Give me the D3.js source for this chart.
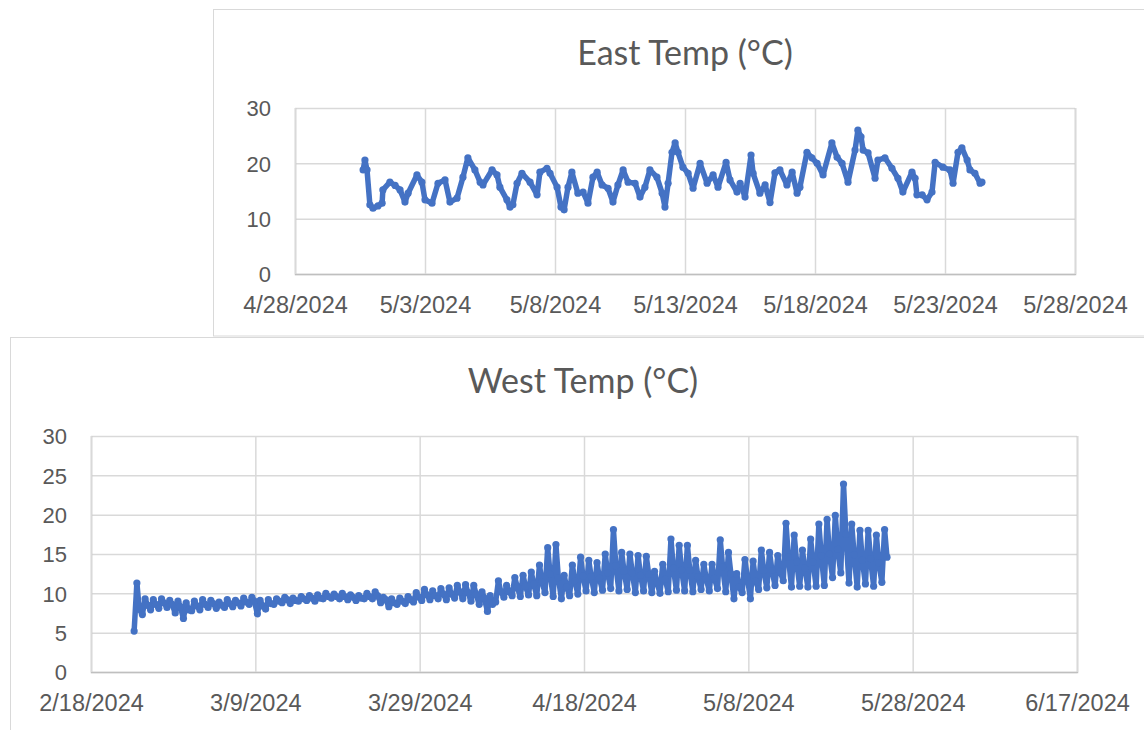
<!DOCTYPE html>
<html>
<head>
<meta charset="utf-8">
<script src="https://cdnjs.cloudflare.com/ajax/libs/d3/7.8.5/d3.min.js"></script>
<style>
body { margin: 0; background: #fff; }
svg { display: block; font-family: Lato, "Liberation Sans", sans-serif; }
</style>
</head>
<body>
<svg width="1144" height="730"></svg>
<script>
// East sensor: days since 4/28/2024 00:00, and temperature
var eastStart = "2024-04-28";
var eastDay = [2.62,2.69,2.77,2.88,3.00,3.19,3.35,3.38,3.65,3.85,4.04,4.23,4.35,4.69,4.88,5.00,5.27,5.50,5.77,5.96,
  6.23,6.46,6.65,6.92,7.12,7.23,7.58,7.77,7.88,8.15,8.27,8.38,8.54,8.73,9.04,9.31,9.42,9.69,9.81,10.08,
  10.23,10.35,10.50,10.65,10.88,11.08,11.27,11.46,11.62,11.81,12.04,12.23,12.42,12.62,12.81,13.08,13.27,13.46,13.65,13.92,
  14.12,14.23,14.35,14.50,14.62,14.73,14.92,15.12,15.31,15.58,15.85,16.08,16.27,16.58,16.73,17.00,17.12,17.31,17.54,17.62,
  17.88,18.08,18.27,18.46,18.65,18.92,19.12,19.31,19.42,19.69,19.88,20.08,20.31,20.65,20.85,21.04,21.27,21.54,21.65,21.77,
  21.85,22.04,22.31,22.42,22.69,22.96,23.19,23.38,23.73,23.85,23.92,24.12,24.31,24.50,24.62,24.92,25.19,25.31,25.50,25.65,
  25.85,25.96,26.15,26.35,26.42];
var eastTemp = [18.8,20.6,18.8,12.5,11.9,12.3,12.8,15.2,16.6,16.0,15.2,13.0,14.6,17.9,16.6,13.4,12.8,16.4,17.0,13.0,
  13.7,17.5,21.0,18.8,16.6,16.1,18.8,17.9,15.7,13.4,12.1,12.5,16.4,18.2,16.6,14.3,18.4,19.1,18.2,15.7,
  12.1,11.6,15.7,18.4,14.6,14.8,12.8,17.5,18.4,16.1,15.5,13.0,16.1,18.8,16.6,16.4,13.9,15.7,18.8,17.5,
  14.6,12.1,16.4,22.0,23.7,22.0,19.3,18.2,15.5,20.0,16.4,17.9,15.7,20.2,17.0,14.8,16.4,13.9,21.5,18.2,
  14.6,16.1,12.9,18.3,18.8,16.1,18.4,14.6,15.7,22.0,21.0,20.0,17.9,23.7,21.1,20.0,16.6,22.4,26.0,24.8,
  22.4,21.9,17.3,20.6,21.0,19.1,17.3,14.8,18.4,17.3,14.3,14.3,13.4,14.8,20.2,19.3,18.8,16.4,22.0,22.8,
  20.6,18.8,18.2,16.4,16.6];
var eastXTicks = ["2024-04-28","2024-05-03","2024-05-08","2024-05-13","2024-05-18","2024-05-23","2024-05-28"];
var eastYTicks = [0, 10, 20, 30];

// West sensor: early-morning low, afternoon high and evening reading per day from 2/23/2024
var westStart = "2024-02-23";
var westLow = [5.2,7.3,7.9,8.1,8.2,7.5,6.8,7.8,7.9,8.2,8.1,8.2,8.3,8.4,8.6,7.4,8.0,8.6,8.8,8.7,
  9.0,9.1,9.0,9.3,9.4,9.3,9.2,9.1,9.3,9.3,8.8,8.3,8.6,8.7,8.9,9.1,9.2,9.3,9.2,9.4,
  9.3,9.0,8.6,7.7,8.9,9.5,9.7,9.6,9.8,9.7,10.1,9.6,9.3,9.7,9.9,10.3,10.1,10.4,10.6,10.3,
  10.5,10.1,10.3,10.1,10.0,10.2,10.4,10.3,10.2,10.5,10.3,10.6,10.2,9.3,10.1,9.3,10.5,10.7,11.0,11.6,
  10.8,10.9,10.8,10.9,11.0,12.0,12.6,11.3,10.8,11.2,10.9,11.4];
var westHigh = [11.3,9.3,9.2,9.3,9.1,9.0,8.8,9.0,9.2,9.1,8.9,9.2,9.1,9.4,9.5,9.1,9.2,9.3,9.5,9.4,
  9.6,9.7,9.8,10.0,9.9,10.0,9.8,9.7,10.0,10.2,9.5,9.3,9.4,9.6,10.1,10.5,10.3,10.6,10.7,11.0,
  11.1,11.0,10.2,9.7,11.6,11.0,12.0,12.3,12.7,13.6,15.8,16.2,12.3,13.6,14.6,14.2,13.9,15.0,18.1,15.2,
  15.0,14.8,14.7,12.8,13.7,16.9,16.1,16.1,14.2,13.7,13.7,16.8,15.2,12.5,14.3,14.1,15.5,15.2,14.8,18.9,
  17.4,15.5,16.9,18.8,19.4,19.9,23.9,18.8,18.0,18.0,17.4,18.1];
var westEve = [8.0,8.5,8.6,8.8,8.6,8.3,7.9,8.4,8.6,8.7,8.5,8.7,8.8,8.9,9.0,8.4,8.7,9.0,9.2,9.1,
  9.3,9.4,9.4,9.6,9.6,9.6,9.5,9.4,9.6,9.7,9.2,8.8,9.0,9.2,9.5,9.8,9.7,9.9,9.9,10.2,
  10.1,9.9,9.4,8.6,10.2,10.2,10.8,10.9,11.2,11.5,12.4,12.0,10.8,11.6,12.2,12.1,11.9,12.6,13.5,12.8,
  12.6,12.3,12.4,11.4,11.8,13.2,13.0,12.9,12.1,11.9,11.9,13.3,12.5,10.8,12.1,11.6,12.9,12.9,12.8,14.6,
  14.0,13.2,14.0,14.8,15.0,15.6,17.5,14.9,14.2,14.4,13.9,14.6];
var westXTicks = ["2024-02-18","2024-03-09","2024-03-29","2024-04-18","2024-05-08","2024-05-28","2024-06-17"];
var westYTicks = [0, 5, 10, 15, 20, 25, 30];

var parse = d3.timeParse("%Y-%m-%d");
var fmt = d3.timeFormat("%-m/%-d/%Y");
var blue = "#4472C4", textCol = "#595959";

var eastData = eastDay.map(function(d, i) {
	return { t: new Date(parse(eastStart).getTime() + d * 864e5), v: eastTemp[i] };
});
var westData = [];
westLow.forEach(function(lo, i) {
	var day = d3.timeDay.offset(parse(westStart), i);
	westData.push({ t: d3.timeHour.offset(day, 6), v: lo });
	westData.push({ t: d3.timeHour.offset(day, 14), v: westHigh[i] });
	westData.push({ t: d3.timeHour.offset(day, 21), v: westEve[i] });
});

var svg = d3.select("svg");
svg.append("rect").attr("width", 1144).attr("height", 730).attr("fill", "#fff");

// chart frames
svg.append("rect").attr("x", 213.5).attr("y", 9.5).attr("width", 1000).attr("height", 326.5)
	.attr("fill", "#fff").attr("stroke", "#d9d9d9");
svg.append("rect").attr("x", 10.5).attr("y", 337.5).attr("width", 1200).attr("height", 500)
	.attr("fill", "#fff").attr("stroke", "#d9d9d9");

drawChart({
	title: "East Temp (°C)", titleX: 685, titleY: 65,
	left: 295, right: 1075, top: 108, bottom: 274,
	xTicks: eastXTicks, yTicks: eastYTicks, data: eastData
});
drawChart({
	title: "West Temp (°C)", titleX: 583, titleY: 393,
	left: 91, right: 1077, top: 436, bottom: 672,
	xTicks: westXTicks, yTicks: westYTicks, data: westData
});

function drawChart(c) {
	var xt = c.xTicks.map(parse);
	var x = d3.scaleTime().domain([xt[0], xt[xt.length - 1]]).range([c.left, c.right]);
	var y = d3.scaleLinear().domain([0, d3.max(c.yTicks)]).range([c.bottom, c.top]);
	var w = c.right - c.left, h = c.bottom - c.top;

	svg.append("text").attr("x", c.titleX).attr("y", c.titleY)
		.attr("text-anchor", "middle").attr("fill", textCol)
		.style("font-size", "34px").text(c.title);

	var gy = svg.append("g").attr("transform", "translate(" + c.left + ",0)")
		.call(d3.axisLeft(y).tickValues(c.yTicks).tickSize(-w).tickPadding(24));
	gy.select(".domain").remove();
	gy.selectAll("line").attr("stroke", "#d9d9d9").attr("stroke-width", 1.5);
	gy.selectAll("text").attr("fill", textCol).style("font-size", "22px").attr("dy", "0.35em");

	var gx = svg.append("g").attr("transform", "translate(0," + c.bottom + ")")
		.call(d3.axisBottom(x).tickValues(xt).tickFormat(fmt).tickSize(-h).tickPadding(0));
	gx.select(".domain").attr("stroke", "#bfbfbf").attr("stroke-width", 1.5);
	gx.selectAll("line").attr("stroke", "#d9d9d9").attr("stroke-width", 1.5);
	gx.selectAll("text").attr("fill", textCol).style("font-size", "23.5px")
		.attr("y", 31).attr("dy", "0.35em");

	var line = d3.line().x(function(d) { return x(d.t); }).y(function(d) { return y(d.v); });
	svg.append("path").datum(c.data).attr("d", line)
		.attr("fill", "none").attr("stroke", blue).attr("stroke-width", 5.5)
		.attr("stroke-linejoin", "round").attr("stroke-linecap", "round");
	svg.append("g").selectAll("circle").data(c.data).enter().append("circle")
		.attr("cx", function(d) { return x(d.t); })
		.attr("cy", function(d) { return y(d.v); })
		.attr("r", 3.6).attr("fill", blue);
}
</script>
</body>
</html>
